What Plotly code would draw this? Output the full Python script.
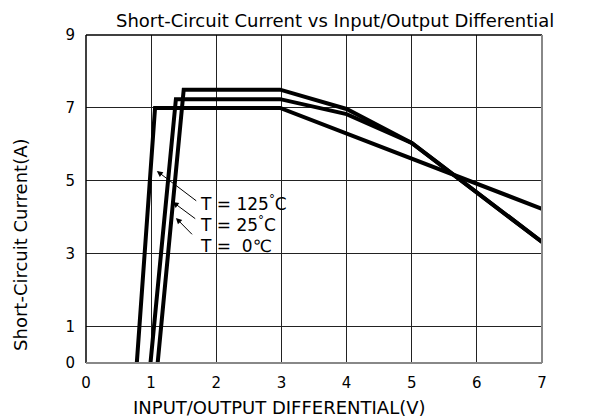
import plotly.graph_objects as go

# Data
x_125 = [0.78, 1.06, 2.98, 7.0]
y_125 = [0.0, 7.0, 7.0, 4.23]

x_25 = [0.99, 1.38, 2.98, 4.0, 5.0, 7.0]
y_25 = [0.0, 7.24, 7.24, 6.83, 6.04, 3.32]

x_0 = [1.10, 1.50, 2.98, 4.0, 5.0, 7.0]
y_0 = [0.0, 7.5, 7.5, 6.97, 6.04, 3.32]

x_ticks = [0, 1, 2, 3, 4, 5, 6, 7]
y_ticks = [0, 1, 3, 5, 7, 9]

labels = ["T = 125<sup>°</sup>C", "T = 25<sup>°</sup>C", "T =  0℃"]
label_x = [1.72, 1.72, 1.72]
label_y = [4.39, 3.81, 3.21]
arrow_tail_x = [1.715, 1.70, 1.65]
arrow_tail_y = [4.42, 3.93, 3.49]
arrow_tip_x = [1.087, 1.33, 1.38]
arrow_tip_y = [5.27, 4.42, 3.98]

FONT = "DejaVu Sans, sans-serif"

fig = go.Figure()
for xs, ys in [(x_125, y_125), (x_25, y_25), (x_0, y_0)]:
    fig.add_trace(go.Scatter(x=xs, y=ys, mode="lines",
                             line=dict(color="black", width=4),
                             showlegend=False, hoverinfo="skip"))

# labels
for t, lx, ly in zip(labels, label_x, label_y):
    fig.add_annotation(x=lx, y=ly, text=t, showarrow=False, xanchor="left",
                       yanchor="middle", font=dict(family=FONT, size=17, color="black"))
# arrows
for tx, ty, hx, hy in zip(arrow_tail_x, arrow_tail_y, arrow_tip_x, arrow_tip_y):
    fig.add_annotation(x=hx, y=hy, ax=tx, ay=ty, xref="x", yref="y", axref="x", ayref="y",
                       text="", showarrow=True, arrowhead=2, arrowsize=1.2,
                       arrowwidth=1, arrowcolor="black")

# borders
fig.add_shape(type="line", xref="paper", yref="paper", x0=0, x1=1, y0=1, y1=1,
              line=dict(color="black", width=1.5))
fig.add_shape(type="line", xref="paper", yref="paper", x0=0, x1=0, y0=0, y1=1,
              line=dict(color="black", width=1.5))
fig.add_shape(type="line", xref="paper", yref="paper", x0=1, x1=1, y0=0, y1=1,
              line=dict(color="#888888", width=2))
fig.add_shape(type="line", xref="paper", yref="paper", x0=0, x1=1, y0=0, y1=0,
              line=dict(color="#888888", width=2))

# titles
fig.add_annotation(text="Short-Circuit Current vs Input/Output Differential",
                   xref="paper", yref="paper", x=0.547, y=1.0, yshift=15,
                   xanchor="center", yanchor="middle",
                   showarrow=False, font=dict(family=FONT, size=18, color="black"))
fig.add_annotation(text="INPUT/OUTPUT DIFFERENTIAL(V)", xref="paper", yref="paper",
                   x=0.425, y=0, yshift=-44, xanchor="center", yanchor="middle",
                   showarrow=False, font=dict(family=FONT, size=18, color="black"))
fig.add_annotation(text="Short-Circuit Current(A)", xref="paper", yref="paper",
                   x=0, xshift=-65, y=0.36, textangle=-90, showarrow=False,
                   xanchor="center", yanchor="middle",
                   font=dict(family=FONT, size=18, color="black"))

fig.update_layout(
    width=589, height=411,
    margin=dict(l=78, r=55, t=27, b=56),
    paper_bgcolor="white", plot_bgcolor="white",
    xaxis=dict(range=[0, 7], tickvals=x_ticks, showgrid=True, gridcolor="#222222",
               gridwidth=1, zeroline=False, showline=False,
               ticks="outside", ticklen=6, tickcolor="rgba(0,0,0,0)",
               tickfont=dict(family=FONT, size=15, color="black")),
    yaxis=dict(range=[0, 9], tickvals=y_ticks, showgrid=True, gridcolor="#222222",
               gridwidth=1, zeroline=False, showline=False,
               ticks="outside", ticklen=7, tickcolor="rgba(0,0,0,0)",
               tickfont=dict(family=FONT, size=15, color="black")),
)

fig.write_html("out.html")
